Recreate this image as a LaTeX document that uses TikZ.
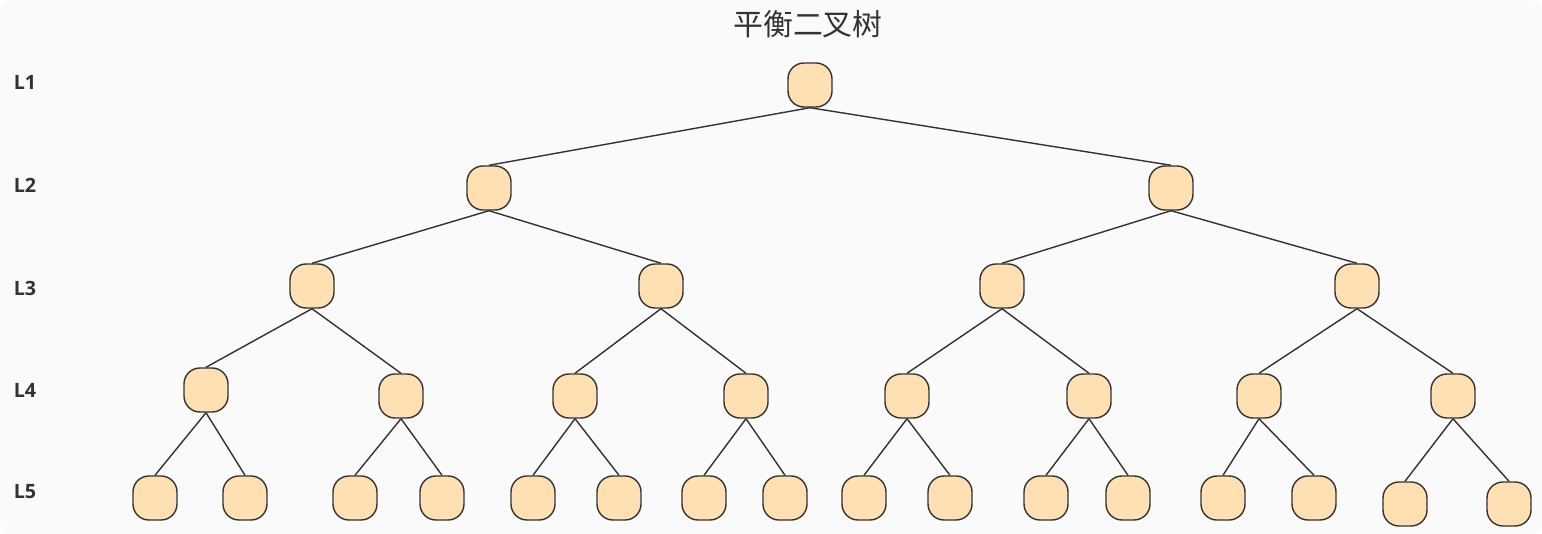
\documentclass[tikz,border=0pt]{standalone}
\usepackage{fontspec}
\setmainfont{Open Sans}
\newfontfamily\cjk{Noto Sans CJK SC}
\definecolor{nodefill}{HTML}{FFE0B2}
\definecolor{nodeline}{HTML}{333333}
\definecolor{bgfill}{HTML}{FAFAFA}
\tikzset{
  tnode/.style={draw=nodeline, fill=nodefill, rounded corners=0.16cm, minimum width=0.44cm, minimum height=0.44cm, inner sep=0pt, line width=0.4pt},
  edge/.style={draw=nodeline, line width=0.4pt},
  lvl/.style={font=\fontsize{5.6}{6}\selectfont\bfseries, text=nodeline}
}
\begin{document}
\begin{tikzpicture}[x=0.01cm, y=-0.01cm]
\useasboundingbox (0,0) rectangle (1542,534);
\fill[bgfill, rounded corners=0.1cm] (0,0) rectangle (1542,534);
\node[font=\cjk\fontsize{8.5}{9}\selectfont, text=nodeline] (title) at (808,24) {平衡二叉树};
% level labels
\foreach \i/\y in {1/82, 2/185, 3/288, 4/390, 5/492}
  \node[lvl] (l\i) at (25,\y) {L\i};
% nodes
\node[tnode] (a) at (810,85) {};
\node[tnode] (b1) at (489,188) {};
\node[tnode] (b2) at (1171,188) {};
\foreach \n/\x in {1/312, 2/661, 3/1002, 4/1357}
  \node[tnode] (c\n) at (\x,286) {};
\foreach \n/\x/\y in {1/206/390, 2/401/396, 3/575/396, 4/746/396, 5/907/396, 6/1089/396, 7/1259/396, 8/1453/396}
  \node[tnode] (d\n) at (\x,\y) {};
\foreach \n/\x/\y in {1/155/498, 2/245/498, 3/355/498, 4/442/498, 5/533/498, 6/619/498, 7/704/498, 8/785/498, 9/864/498, 10/950/498, 11/1046/498, 12/1128/498, 13/1223/498, 14/1314/498, 15/1405/504, 16/1509/504}
  \node[tnode] (e\n) at (\x,\y) {};
% edges
\draw[edge] (a.south) -- (b1.north) (a.south) -- (b2.north);
\draw[edge] (b1.south) -- (c1.north) (b1.south) -- (c2.north);
\draw[edge] (b2.south) -- (c3.north) (b2.south) -- (c4.north);
\foreach \p/\l/\r in {1/1/2, 2/3/4, 3/5/6, 4/7/8}
  \draw[edge] (c\p.south) -- (d\l.north) (c\p.south) -- (d\r.north);
\foreach \p/\l/\r in {1/1/2, 2/3/4, 3/5/6, 4/7/8, 5/9/10, 6/11/12, 7/13/14, 8/15/16}
  \draw[edge] (d\p.south) -- (e\l.north) (d\p.south) -- (e\r.north);
\end{tikzpicture}
\end{document}
